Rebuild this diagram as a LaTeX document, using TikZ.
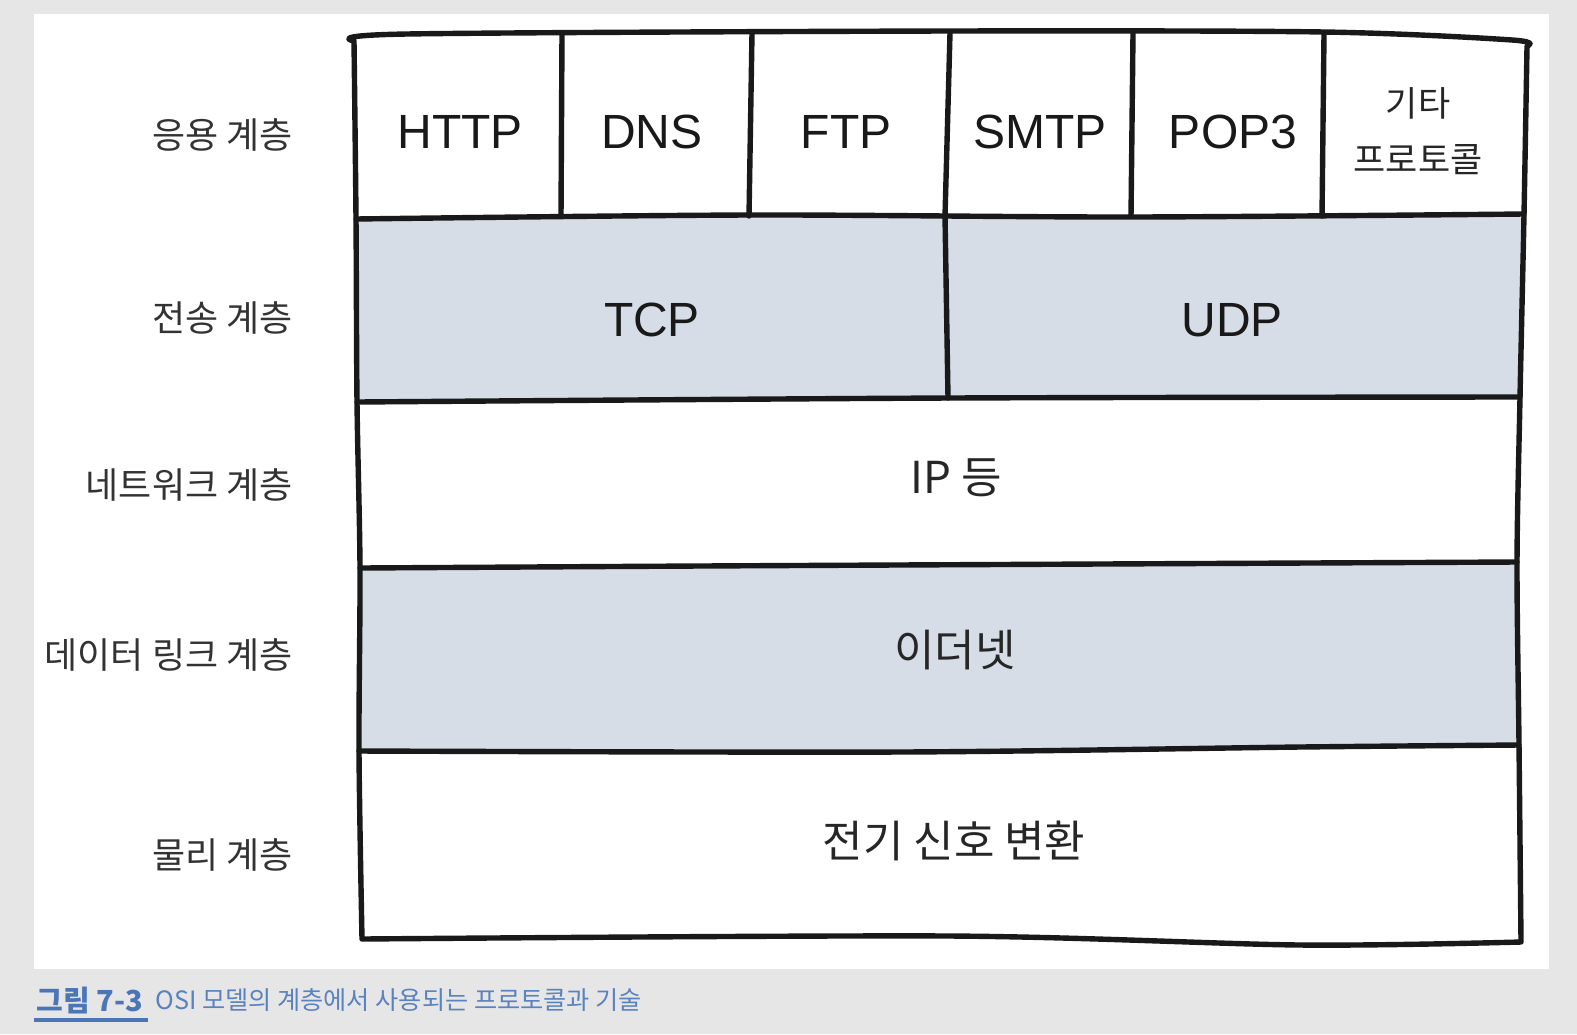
\documentclass[tikz,border=0pt]{standalone}
\usepackage{fontspec}
\setmainfont{Liberation Sans}
\newfontfamily\kr{Noto Sans CJK KR}
\definecolor{bandblue}{HTML}{D6DDE7}
\definecolor{pagegray}{HTML}{E6E6E6}
\definecolor{capblue}{HTML}{4A75B6}
\definecolor{capsoft}{HTML}{5A82BE}

\begin{document}
\begin{tikzpicture}[x=0.5pt,y=-0.5pt,
	wobble/.style={line width=2.7pt,draw=black!90,line cap=round,line join=round},
	band/.style={fill=bandblue},
	proto/.style={font=\fontsize{24}{28}\selectfont,text=black!90,inner sep=0pt},
	layerlabel/.style={font=\kr\fontsize{18}{20}\selectfont,text=black!80,anchor=east,inner sep=0pt},
	content/.style={font=\kr\fontsize{22}{24}\selectfont,text=black!85,inner sep=0pt}]
	\useasboundingbox (0,0) rectangle (1577,1034);
	\fill[pagegray] (0,0) rectangle (1577,1034);
	\fill[white] (34,14) rectangle (1549,969);

	\fill[band] plot[smooth] coordinates {(356,219) (750,215) (1130,217) (1525,214)}
		-- plot[smooth] coordinates {(1520,397) (950,398) (357,402)} -- cycle;
	\fill[band] plot[smooth] coordinates {(360,568) (700,566) (1100,564) (1517,562)}
		-- plot[smooth] coordinates {(1519,745) (1300,747) (900,752) (359,751)} -- cycle;

	\draw[wobble] plot[smooth] coordinates {(354,41) (407,34) (950,31) (1324,32) (1512,40) (1527,46)}
		-- plot[smooth] coordinates {(1527,46) (1524,214) (1520,397) (1517,562) (1519,745) (1521,942)}
		-- plot[smooth] coordinates {(1521,942) (1300,945) (950,936) (362,939)}
		-- plot[smooth] coordinates {(362,939) (359,751) (360,568) (357,402) (356,219) (354,41)} -- cycle;
	\draw[wobble] plot[smooth] coordinates {(356,219) (750,215) (1130,217) (1524,214)};
	\draw[wobble] plot[smooth] coordinates {(357,402) (950,398) (1520,397)};
	\draw[wobble] plot[smooth] coordinates {(360,568) (700,566) (1100,564) (1517,562)};
	\draw[wobble] plot[smooth] coordinates {(359,751) (900,752) (1300,747) (1519,745)};
	\foreach \t/\b in {562/561, 752/749, 950/945, 1133/1131, 1324/1322}
		\draw[wobble] (\t,33) -- (\b,216);
	\draw[wobble] (945,216) -- (948,398);

	\node[layerlabel] (appl) at (293,135) {응용 계층};
	\node[layerlabel] (trans) at (293,318) {전송 계층};
	\node[layerlabel] (net) at (293,485) {네트워크 계층};
	\node[layerlabel] (link) at (293,655) {데이터 링크 계층};
	\node[layerlabel] (phys) at (293,855) {물리 계층};

	\node[proto] (http) at (460,132) {HTTP};
	\node[proto] (dns) at (652,132) {DNS};
	\node[proto] (ftp) at (846,132) {FTP};
	\node[proto] (smtp) at (1040,132) {SMTP};
	\node[proto] (pop) at (1233,132) {POP3};
	\node[content,font=\kr\fontsize{17.5}{28}\selectfont,align=center] (etc) at (1418,131) {기타\\프로토콜};

	\node[proto] (tcp) at (652,320) {TCP};
	\node[proto] (udp) at (1232,320) {UDP};
	\node[content] (ip) at (956,478) {IP 등};
	\node[content] (eth) at (955,650) {이더넷};
	\node[content] (sig) at (954,841) {전기 신호 변환};

	\node[anchor=west,inner sep=0pt,text=capblue,font=\kr\bfseries\fontsize{14.5}{16}\selectfont] (fignum) at (36,1000) {그림 7-3};
	\node[anchor=west,inner sep=0pt,text=capsoft,font=\kr\fontsize{12.6}{14}\selectfont] (figcap) at (155,1000) {OSI 모델의 계층에서 사용되는 프로토콜과 기술};
	\fill[capblue] (34,1018) rectangle (148,1022);
\end{tikzpicture}
\end{document}
